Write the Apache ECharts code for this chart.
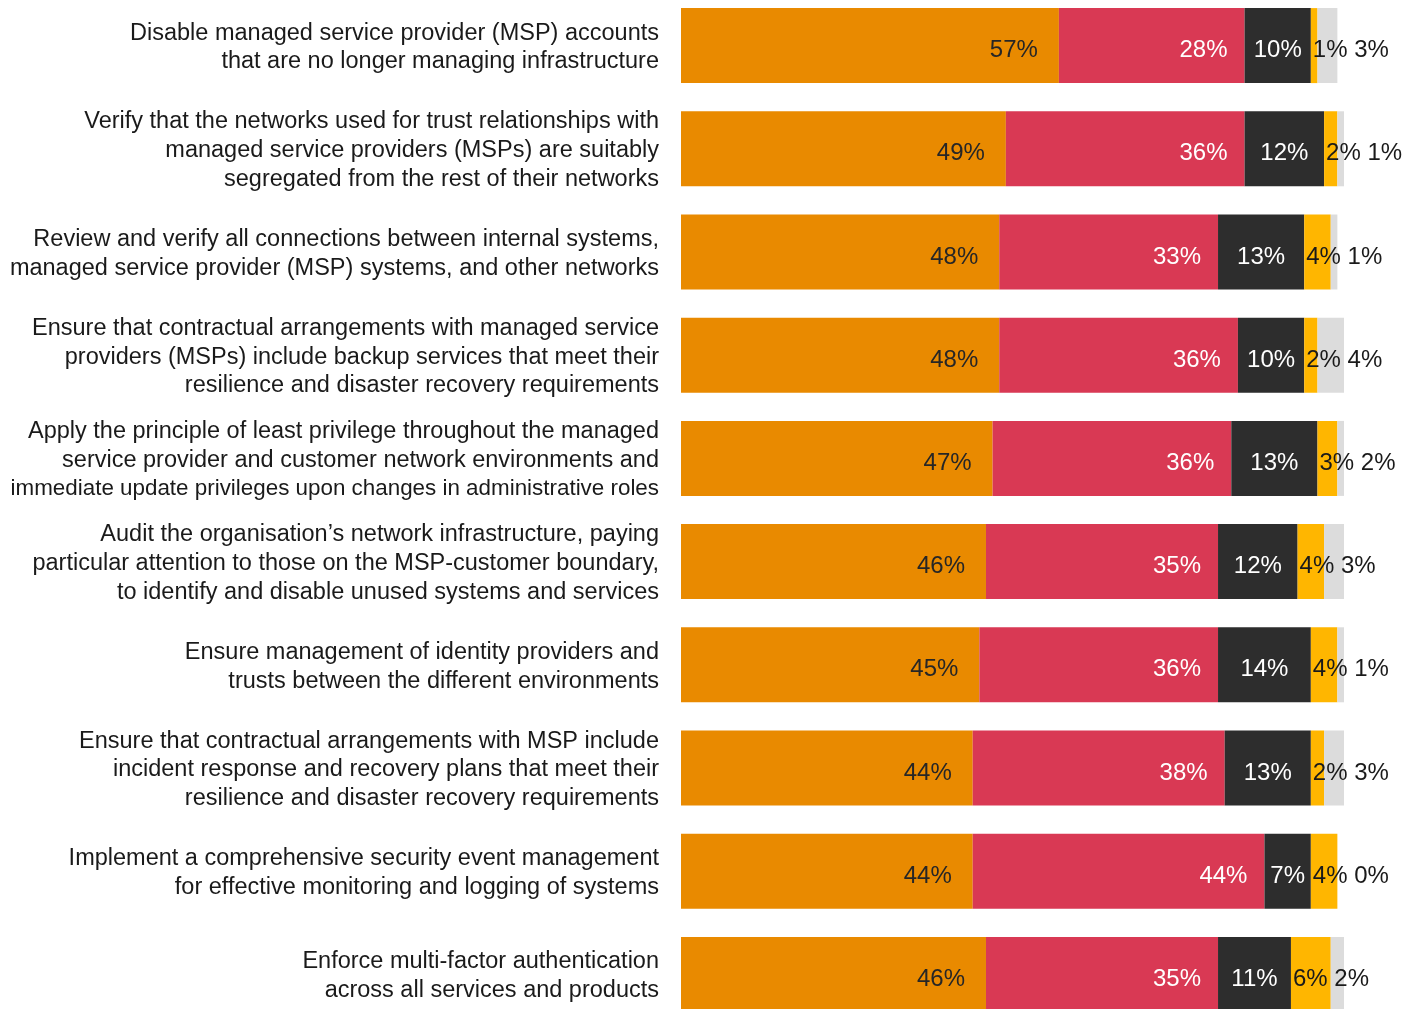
<!DOCTYPE html>
<html>
<head>
<meta charset="utf-8">
<script src="https://cdn.jsdelivr.net/npm/echarts@6/dist/echarts.min.js"></script>
<style>
  html, body { margin: 0; padding: 0; background: #fff; }
  #chart { width: 1415px; height: 1009px; }
</style>
</head>
<body>
<div id="chart"></div>
<script>
// categories, top to bottom ({sq|..} marks the one line set tighter in the original)
const categories = [
    'Disable managed service provider (MSP) accounts\nthat are no longer managing infrastructure',
    'Verify that the networks used for trust relationships with\nmanaged service providers (MSPs) are suitably\nsegregated from the rest of their networks',
    'Review and verify all connections between internal systems,\nmanaged service provider (MSP) systems, and other networks',
    'Ensure that contractual arrangements with managed service\nproviders (MSPs) include backup services that meet their\nresilience and disaster recovery requirements',
    'Apply the principle of least privilege throughout the managed\nservice provider and customer network environments and\n{sq|immediate update privileges upon changes in administrative roles}',
    'Audit the organisation\u2019s network infrastructure, paying\nparticular attention to those on the MSP-customer boundary,\nto identify and disable unused systems and services',
    'Ensure management of identity providers and\ntrusts between the different environments',
    'Ensure that contractual arrangements with MSP include\nincident response and recovery plans that meet their\nresilience and disaster recovery requirements',
    'Implement a comprehensive security event management\nfor effective monitoring and logging of systems',
    'Enforce multi-factor authentication\nacross all services and products'
]

// series values (%)
const orangeVals = [57, 49, 48, 48, 47, 46, 45, 44, 44, 46]
const redVals    = [28, 36, 33, 36, 36, 35, 36, 38, 44, 35]
const darkVals   = [10, 12, 13, 10, 13, 12, 14, 13, 7, 11]
const yellowVals = [1, 2, 4, 2, 3, 4, 4, 2, 4, 6]
const greyVals   = [3, 1, 1, 4, 2, 3, 1, 3, 0, 2]

const fontFamily = '"Liberation Sans", Arial, sans-serif'

const myChart = echarts.init(document.getElementById('chart'))

//生成系列
function makeSeries(name, data, color, label) {
    return {
        name: name,
        type: 'bar',
        stack: 'total',
        data: data,
        barWidth: 75,
        itemStyle: { color: color },
        label: Object.assign({
            show: true,
            formatter: '{c}%',
            fontSize: 24,
            fontFamily: fontFamily,
            offset: [0, 5]
        }, label),
        emphasis: { disabled: true }
    }
}

//黄色标签后面接着灰色的数值
function yellowGreyLabel(params) {
    return params.value + '% ' + greyVals[params.dataIndex] + '%'
}

const option = {
    animation: false,
    backgroundColor: '#fff',
    grid: {
        left: 681,
        right: 71,
        top: -6,
        height: 1032,
        outerBoundsMode: 'none'
    },
    xAxis: {
        type: 'value',
        min: 0,
        max: 100,
        show: false
    },
    yAxis: {
        type: 'category',
        inverse: true,
        data: categories,
        axisLine: { show: false },
        axisTick: { show: false },
        axisLabel: {
            margin: 22,
            fontSize: 23.5,
            lineHeight: 28.8,
            padding: [4, 0, 0, 0],
            color: '#1a1a1a',
            fontFamily: fontFamily,
            align: 'right',
            rich: {
                sq: { fontSize: 22.4, lineHeight: 28.8, fontFamily: fontFamily, color: '#1a1a1a' }
            }
        }
    },
    series: [
        makeSeries('orange', orangeVals, '#E98A00', { position: 'insideRight', distance: 21, color: '#262626' }),
        makeSeries('red', redVals, '#D93954', { position: 'insideRight', distance: 17, color: '#ffffff' }),
        makeSeries('dark', darkVals, '#2D2D2D', { position: 'inside', color: '#ffffff' }),
        makeSeries('yellow', yellowVals, '#FFB600', { position: 'insideLeft', distance: 2, color: '#1a1a1a', formatter: yellowGreyLabel }),
        makeSeries('grey', greyVals, '#DCDCDC', { show: false })
    ]
}

myChart.setOption(option)
</script>
</body>
</html>
